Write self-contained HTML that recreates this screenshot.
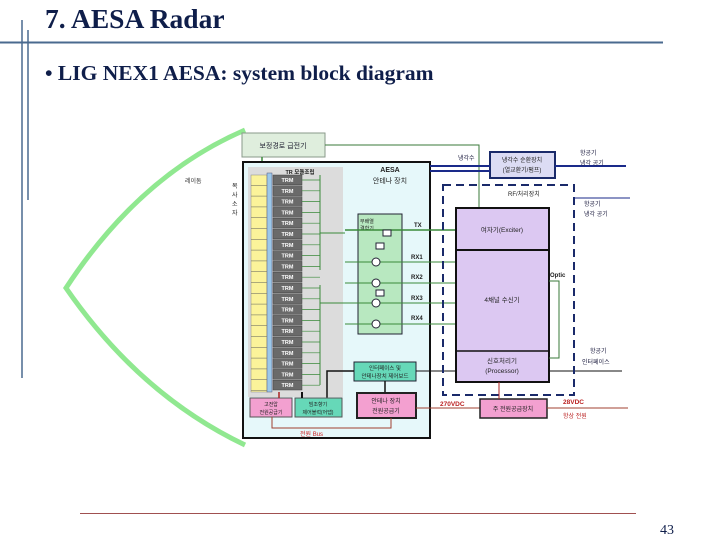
<!DOCTYPE html>
<html><head><meta charset="utf-8"><style>
body{margin:0;width:720px;height:540px;background:#fff;overflow:hidden;position:relative}
svg{position:absolute;left:0;top:0}
</style></head><body>
<svg width="720" height="540" viewBox="0 0 720 540" font-family="Liberation Sans, Noto Sans CJK KR, sans-serif">
<!-- slide frame -->
<line x1="22" y1="20" x2="22" y2="378" stroke="#4a6a8f" stroke-width="1.5"/>
<line x1="28" y1="30" x2="28" y2="200" stroke="#4a6a8f" stroke-width="1.5"/>
<line x1="0" y1="42.5" x2="663" y2="42.5" stroke="#4a6a8f" stroke-width="2"/>
<text x="45" y="28" font-family="Liberation Serif, serif" font-weight="bold" font-size="27.5" fill="#0f1e4a">7. AESA Radar</text>
<text x="45" y="80" font-family="Liberation Serif, serif" font-weight="bold" font-size="21.5" fill="#0f1e4a">• LIG NEX1 AESA: system block diagram</text>
<line x1="80" y1="513.5" x2="636" y2="513.5" stroke="#a05050" stroke-width="1"/>
<text x="660" y="534" font-family="Liberation Serif, serif" font-size="14" fill="#0f1e4a">43</text>

<!-- radome -->
<path d="M245,130 Q140,175 66,288 Q140,395 245,445" fill="none" stroke="#90e890" stroke-width="5"/>
<text x="185" y="183" font-size="6" fill="#333">레이돔</text>

<!-- top feed box -->
<rect x="242" y="133" width="83" height="24" fill="#dfeedd" stroke="#8a9a8a"/>
<text x="283" y="148" font-size="7" text-anchor="middle" fill="#223">보정경로 급전기</text>
<polyline points="325,145 479,145 479,208" fill="none" stroke="#3a7a3a" stroke-width="1"/>
<line x1="262" y1="157" x2="262" y2="173" stroke="#3a8a3a" stroke-width="1.5"/>

<!-- AESA main -->
<rect x="243" y="162" width="187" height="276" fill="#e6f8fa" stroke="#111" stroke-width="2"/>
<rect x="248" y="167" width="95" height="230" fill="#dcdcdc"/>
<text x="300" y="174" font-size="5.5" fill="#222" text-anchor="middle" font-weight="bold">TR 모듈조립</text>
<text x="390" y="172" font-size="7" font-weight="bold" fill="#222" text-anchor="middle">AESA</text>
<text x="390" y="183" font-size="7" fill="#222" text-anchor="middle">안테나 장치</text>
<text x="232" y="188" font-size="6" fill="#222">복</text><text x="232" y="197" font-size="6" fill="#222">사</text><text x="232" y="206" font-size="6" fill="#222">소</text><text x="232" y="215" font-size="6" fill="#222">자</text>
<rect x="251" y="175" width="16" height="217" fill="#fbf39a" stroke="#888" stroke-width="0.5"/>
<rect x="267" y="173" width="5" height="219" fill="#9cc8ea" stroke="#557" stroke-width="0.5"/>
<g id="trm"></g>
<!-- green panel -->
<rect x="358" y="214" width="44" height="120" fill="#b8e8c0" stroke="#223" stroke-width="1"/>
<text x="360" y="223" font-size="5" fill="#222">부배열</text>
<text x="360" y="230" font-size="5" fill="#222">결합기</text>
<line x1="345" y1="230" x2="456" y2="230" stroke="#3a8a3a" stroke-width="1.5"/>
<text x="414" y="227" font-size="6" font-weight="bold" fill="#222">TX</text>
<g stroke="#3a8a3a" stroke-width="1">
<line x1="345" y1="262" x2="456" y2="262"/><line x1="345" y1="283" x2="456" y2="283"/>
<line x1="345" y1="303" x2="456" y2="303"/><line x1="345" y1="324" x2="456" y2="324"/>
<line x1="320" y1="233" x2="345" y2="233"/><line x1="320" y1="303" x2="345" y2="303"/>
<line x1="320" y1="175" x2="320" y2="270"/><line x1="320" y1="285" x2="320" y2="385"/>
</g>
<g fill="#fff" stroke="#223">
<rect x="383" y="230" width="8" height="6"/><rect x="376" y="243" width="8" height="6"/><rect x="376" y="290" width="8" height="6"/>
<circle cx="376" cy="262" r="4"/><circle cx="376" cy="283" r="4"/><circle cx="376" cy="303" r="4"/><circle cx="376" cy="324" r="4"/>
</g>
<g font-size="6" font-weight="bold" fill="#222">
<text x="411" y="259">RX1</text><text x="411" y="279">RX2</text><text x="411" y="300">RX3</text><text x="411" y="320">RX4</text></g>
<!-- interface -->
<rect x="354" y="362" width="62" height="19" fill="#66d8b8" stroke="#223"/>
<text x="385" y="370" font-size="5.5" text-anchor="middle" fill="#222">인터페이스 및</text>
<text x="385" y="378" font-size="5.5" text-anchor="middle" fill="#222">안테나장치 제어보드</text>
<line x1="416" y1="371" x2="622" y2="371" stroke="#111" stroke-width="1"/>
<polyline points="354,371 327,371 327,398" fill="none" stroke="#111" stroke-width="1.5"/>
<line x1="385" y1="381" x2="385" y2="393" stroke="#111" stroke-width="1.5"/>
<rect x="357" y="393" width="59" height="25" fill="#f3a0d0" stroke="#222" stroke-width="2"/>
<text x="386" y="403" font-size="6" text-anchor="middle" fill="#222">안테나 장치</text>
<text x="386" y="413" font-size="6" text-anchor="middle" fill="#222">전원공급기</text>
<rect x="250" y="398" width="42" height="19" fill="#f3a0d0" stroke="#555"/>
<text x="271" y="406" font-size="5" text-anchor="middle" fill="#222">고전압</text>
<text x="271" y="414" font-size="5" text-anchor="middle" fill="#222">전원공급기</text>
<rect x="295" y="398" width="47" height="19" fill="#66d8b8" stroke="#555"/>
<text x="318" y="406" font-size="5" text-anchor="middle" fill="#222">빔조향기</text>
<text x="318" y="414" font-size="5" text-anchor="middle" fill="#222">제어블럭(어댑)</text>
<line x1="302" y1="392" x2="302" y2="398" stroke="#111" stroke-width="2"/>
<line x1="279" y1="392" x2="279" y2="398" stroke="#a22" stroke-width="1.5"/>
<polyline points="272,417 272,428 391,428 391,418" fill="none" stroke="#a04030" stroke-width="1"/>
<text x="300" y="436" font-size="6" fill="#c22">전원 Bus</text>
<line x1="416" y1="408" x2="480" y2="408" stroke="#a04030" stroke-width="1"/>

<!-- cooling -->
<rect x="490" y="152" width="65" height="26" fill="#dcdcf4" stroke="#1a2a6a" stroke-width="2"/>
<text x="522" y="162" font-size="6" text-anchor="middle" fill="#222">냉각수 순환장치</text>
<text x="522" y="172" font-size="6" text-anchor="middle" fill="#222">(열교환기/펌프)</text>
<line x1="430" y1="166" x2="490" y2="166" stroke="#1a2a8a" stroke-width="2"/>
<line x1="430" y1="171" x2="490" y2="171" stroke="#1a2a8a" stroke-width="2"/>
<line x1="555" y1="166" x2="626" y2="166" stroke="#1a2a8a" stroke-width="2"/>
<text x="458" y="160" font-size="6" fill="#224">냉각수</text>
<text x="580" y="155" font-size="6" fill="#224">항공기</text>
<text x="580" y="165" font-size="6" fill="#224">냉각 공기</text>
<!-- RF dashed -->
<rect x="443" y="185" width="131" height="210" fill="none" stroke="#1a2a6a" stroke-width="2" stroke-dasharray="8,5"/>
<text x="508" y="196" font-size="6" fill="#222">RF/처리장치</text>
<line x1="574" y1="198" x2="630" y2="198" stroke="#1a2a8a" stroke-width="1"/>
<text x="584" y="206" font-size="6" fill="#224">항공기</text>
<text x="584" y="216" font-size="6" fill="#224">냉각 공기</text>
<rect x="456" y="208" width="93" height="174" fill="#dcc8f2" stroke="#111" stroke-width="2"/>
<line x1="456" y1="250" x2="549" y2="250" stroke="#111" stroke-width="2"/>
<line x1="456" y1="351" x2="549" y2="351" stroke="#111" stroke-width="1.5"/>
<text x="502" y="232" font-size="6.5" text-anchor="middle" fill="#222">여자기(Exciter)</text>
<text x="502" y="302" font-size="6.5" text-anchor="middle" fill="#222">4채널 수신기</text>
<text x="502" y="363" font-size="6.5" text-anchor="middle" fill="#222">신호처리기</text>
<text x="502" y="373" font-size="6.5" text-anchor="middle" fill="#222">(Processor)</text>
<polyline points="549,281 559,281 559,358 549,358" fill="none" stroke="#3a7a3a" stroke-width="1"/>
<text x="550" y="277" font-size="6" font-weight="bold" fill="#222">Optic</text>
<text x="590" y="353" font-size="6" fill="#224">항공기</text>
<text x="582" y="364" font-size="6" fill="#224">인터페이스</text>
<!-- main power -->
<rect x="480" y="399" width="67" height="19" fill="#f3a0d0" stroke="#222" stroke-width="1.5"/>
<text x="513" y="411" font-size="6" text-anchor="middle" fill="#222">주 전원공급장치</text>
<line x1="499" y1="382" x2="499" y2="399" stroke="#a22" stroke-width="1"/>
<line x1="547" y1="408" x2="628" y2="408" stroke="#a04030" stroke-width="1"/>
<text x="440" y="406" font-size="6.5" font-weight="bold" fill="#b22">270VDC</text>
<text x="563" y="404" font-size="6.5" font-weight="bold" fill="#b22">28VDC</text>
<text x="563" y="418" font-size="6" fill="#b22">항상 전원</text>
</svg>
<script>
var g=document.getElementById('trm'),s='';
for(var i=0;i<20;i++){var y=175+i*10.8;
s+='<rect x="273" y="'+y+'" width="29" height="9.8" fill="#6a6a6a" stroke="#444" stroke-width="0.5"/><text x="287.5" y="'+(y+7)+'" font-size="5.5" fill="#fff" text-anchor="middle" font-weight="bold">TRM</text><line x1="302" y1="'+(y+5)+'" x2="320" y2="'+(y+5)+'" stroke="#3a8a3a" stroke-width="0.7"/><line x1="251" y1="'+(y+10.3)+'" x2="267" y2="'+(y+10.3)+'" stroke="#776" stroke-width="0.6"/>';}
g.innerHTML=s;
</script>
</body></html>
